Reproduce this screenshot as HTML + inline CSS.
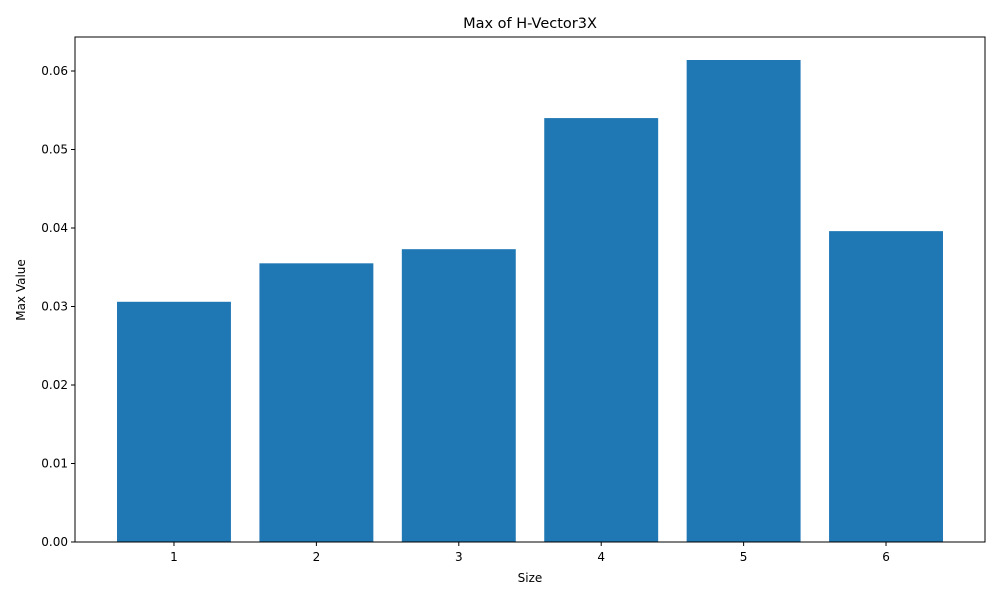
<!DOCTYPE html>
<html><head><meta charset="utf-8"><style>
body{margin:0;background:#fff;}
svg text{font-family:"DejaVu Sans","Liberation Sans",sans-serif;fill:#000;}
</style></head><body>
<svg id="chart" width="1000" height="600" xmlns="http://www.w3.org/2000/svg">
<rect width="1000" height="600" fill="#fff"/>
<text x="530" y="28" font-size="14.5" text-anchor="middle">Max of H-Vector3X</text>
<g id="bars"></g>
<g id="xticks"></g>
<g id="yticks"></g>
<rect x="75" y="37" width="910" height="505" fill="none" stroke="#000" stroke-width="1"/>
<text x="530" y="582" font-size="12" text-anchor="middle">Size</text>
<text transform="translate(25,290) rotate(-90)" font-size="12" text-anchor="middle">Max Value</text>
</svg>
<script>
const categories = ["1","2","3","4","5","6"];
const values = [0.0306, 0.0355, 0.0373, 0.0540, 0.0614, 0.0396];
const yTicks = [0, 0.01, 0.02, 0.03, 0.04, 0.05, 0.06];
const yTickLabels = ["0.00","0.01","0.02","0.03","0.04","0.05","0.06"];

const L=75,R=985,T=37,B=542;
const yMax=0.06433, xMin=0.305, xMax=6.695;
const y=v=>B-(v/yMax)*(B-T);
const x=v=>L+(v-xMin)/(xMax-xMin)*(R-L);
const NS="http://www.w3.org/2000/svg";
const bars=document.getElementById('bars'),xt=document.getElementById('xticks'),yt=document.getElementById('yticks');
const bw=0.8*(R-L)/(xMax-xMin);
categories.forEach((c,i)=>{
  const cx=x(i+1);
  const r=document.createElementNS(NS,'rect');
  r.setAttribute('x',cx-bw/2);r.setAttribute('width',bw);
  r.setAttribute('y',y(values[i]));r.setAttribute('height',B-y(values[i]));
  r.setAttribute('fill','#1f77b4');
  
  
  bars.appendChild(r);
  const l=document.createElementNS(NS,'line');
  l.setAttribute('x1',cx);l.setAttribute('x2',cx);l.setAttribute('y1',B);l.setAttribute('y2',B+4);l.setAttribute('stroke','#000');
  
  
  xt.appendChild(l);
  const t=document.createElementNS(NS,'text');
  t.setAttribute('x',cx);t.setAttribute('y',B+19);t.setAttribute('font-size','12');t.setAttribute('text-anchor','middle');
  t.textContent=c;
  
  
  xt.appendChild(t);
});
yTicks.forEach((v,i)=>{
  const yy=y(v);
  const l=document.createElementNS(NS,'line');
  l.setAttribute('x1',L-4);l.setAttribute('x2',L);l.setAttribute('y1',yy);l.setAttribute('y2',yy);l.setAttribute('stroke','#000');
  
  
  yt.appendChild(l);
  const t=document.createElementNS(NS,'text');
  t.setAttribute('x',L-7);t.setAttribute('y',yy+4);t.setAttribute('font-size','12');t.setAttribute('text-anchor','end');
  t.textContent=yTickLabels[i];
  
  
  yt.appendChild(t);
});
</script>
</body></html>
